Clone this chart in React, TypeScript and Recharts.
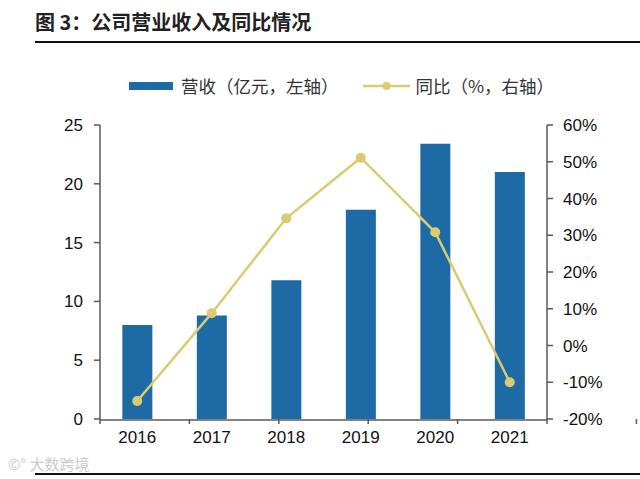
import React from 'react';
import { ComposedChart, Bar, Line, XAxis, YAxis } from 'recharts';

const years = ['2016', '2017', '2018', '2019', '2020', '2021'];
const revenue = [8.0, 8.8, 11.8, 17.8, 23.4, 21.0];
const yoy = [-15.1, 8.8, 34.6, 51.1, 30.8, -10.0];
const leftTicks = [0, 5, 10, 15, 20, 25];
const rightTicks = [-20, -10, 0, 10, 20, 30, 40, 50, 60];
const boundaryTicks = [0, 1, 2, 3, 4, 5, 6];

const BAR = '#1D6AA5';
const LINE = '#DACB70';
const AXIS = '#595959';
const NUM_FONT = '"Liberation Sans", Arial, sans-serif';
const CJK_FONT = '"Noto Sans CJK SC", sans-serif';

const data = years.map((y, i) => ({ year: y, revenue: revenue[i], yoy: yoy[i] }));

const tickStyle = { fontSize: 17, fill: '#111', fontFamily: NUM_FONT };

export default function App() {
  return (
    <div style={{ position: 'absolute', left: 0, top: 0, width: 640, height: 479, background: '#fff', overflow: 'hidden' }}>
      <div style={{ position: 'absolute', left: 35, top: 7, fontFamily: CJK_FONT, fontWeight: 700, fontSize: 20, color: '#222', whiteSpace: 'nowrap' }}>
        图 3：公司营业收入及同比情况
      </div>
      <div style={{ position: 'absolute', left: 35, top: 41, width: 605, height: 2, background: '#111' }} />

      <div style={{ position: 'absolute', left: 129, top: 73, display: 'flex', alignItems: 'center', fontFamily: CJK_FONT, fontSize: 17.5, color: '#333', whiteSpace: 'nowrap' }}>
        <span style={{ display: 'inline-block', width: 44, height: 8, background: BAR, marginRight: 8 }} />
        <span>营收（亿元，左轴）</span>
        <svg width="47" height="10" style={{ marginLeft: 24, marginRight: 6 }}>
          <line x1="0" y1="5" x2="47" y2="5" stroke={LINE} strokeWidth="2.5" />
          <circle cx="23.5" cy="5" r="4" fill={LINE} />
        </svg>
        <span>同比（%，右轴）</span>
      </div>

      <div style={{ position: 'absolute', left: 0, top: 0 }}>
        <ComposedChart
          width={640}
          height={479}
          data={data}
          margin={{ top: 125, right: 0, bottom: 29, left: 0 }}
          barCategoryGap="30%"
        >
          <XAxis
            xAxisId="bound"
            type="number"
            domain={[0, 6]}
            ticks={boundaryTicks}
            axisLine={false}
            tickFormatter={() => ''}
            tickSize={5}
            tickLine={{ stroke: AXIS, strokeWidth: 1.5 }}
            height={1}
          />
          <XAxis
            dataKey="year"
            xAxisId="cat"
            tickLine={false}
            axisLine={{ stroke: AXIS, strokeWidth: 1.5 }}
            tickSize={0}
            tickMargin={11}
            tick={tickStyle}
            height={30}
          />
          <YAxis
            yAxisId="left"
            domain={[0, 25]}
            ticks={leftTicks}
            width={100}
            tickSize={6}
            tickMargin={11}
            axisLine={{ stroke: AXIS, strokeWidth: 1.5 }}
            tickLine={{ stroke: AXIS, strokeWidth: 1.5 }}
            tick={tickStyle}
          />
          <YAxis
            yAxisId="right"
            orientation="right"
            domain={[-20, 60]}
            ticks={rightTicks}
            width={93}
            tickSize={6}
            tickMargin={10}
            tickFormatter={(v: number) => `${v}%`}
            axisLine={{ stroke: AXIS, strokeWidth: 1.5 }}
            tickLine={{ stroke: AXIS, strokeWidth: 1.5 }}
            tick={tickStyle}
          />
          <Bar xAxisId="cat" yAxisId="left" dataKey="revenue" fill={BAR} isAnimationActive={false} />
          <Line
            xAxisId="cat"
            yAxisId="right"
            dataKey="yoy"
            type="linear"
            stroke={LINE}
            strokeWidth={2.5}
            dot={{ r: 5, fill: LINE, stroke: LINE, strokeWidth: 0 }}
            isAnimationActive={false}
          />
        </ComposedChart>
      </div>

      <div style={{ position: 'absolute', left: 8, top: 453, fontFamily: CJK_FONT, fontSize: 15, color: '#cccccc' }}>
        ©° 大数跨境
      </div>
      <div style={{ position: 'absolute', left: 35, top: 473, width: 605, height: 2, background: '#111' }} />
    </div>
  );
}
